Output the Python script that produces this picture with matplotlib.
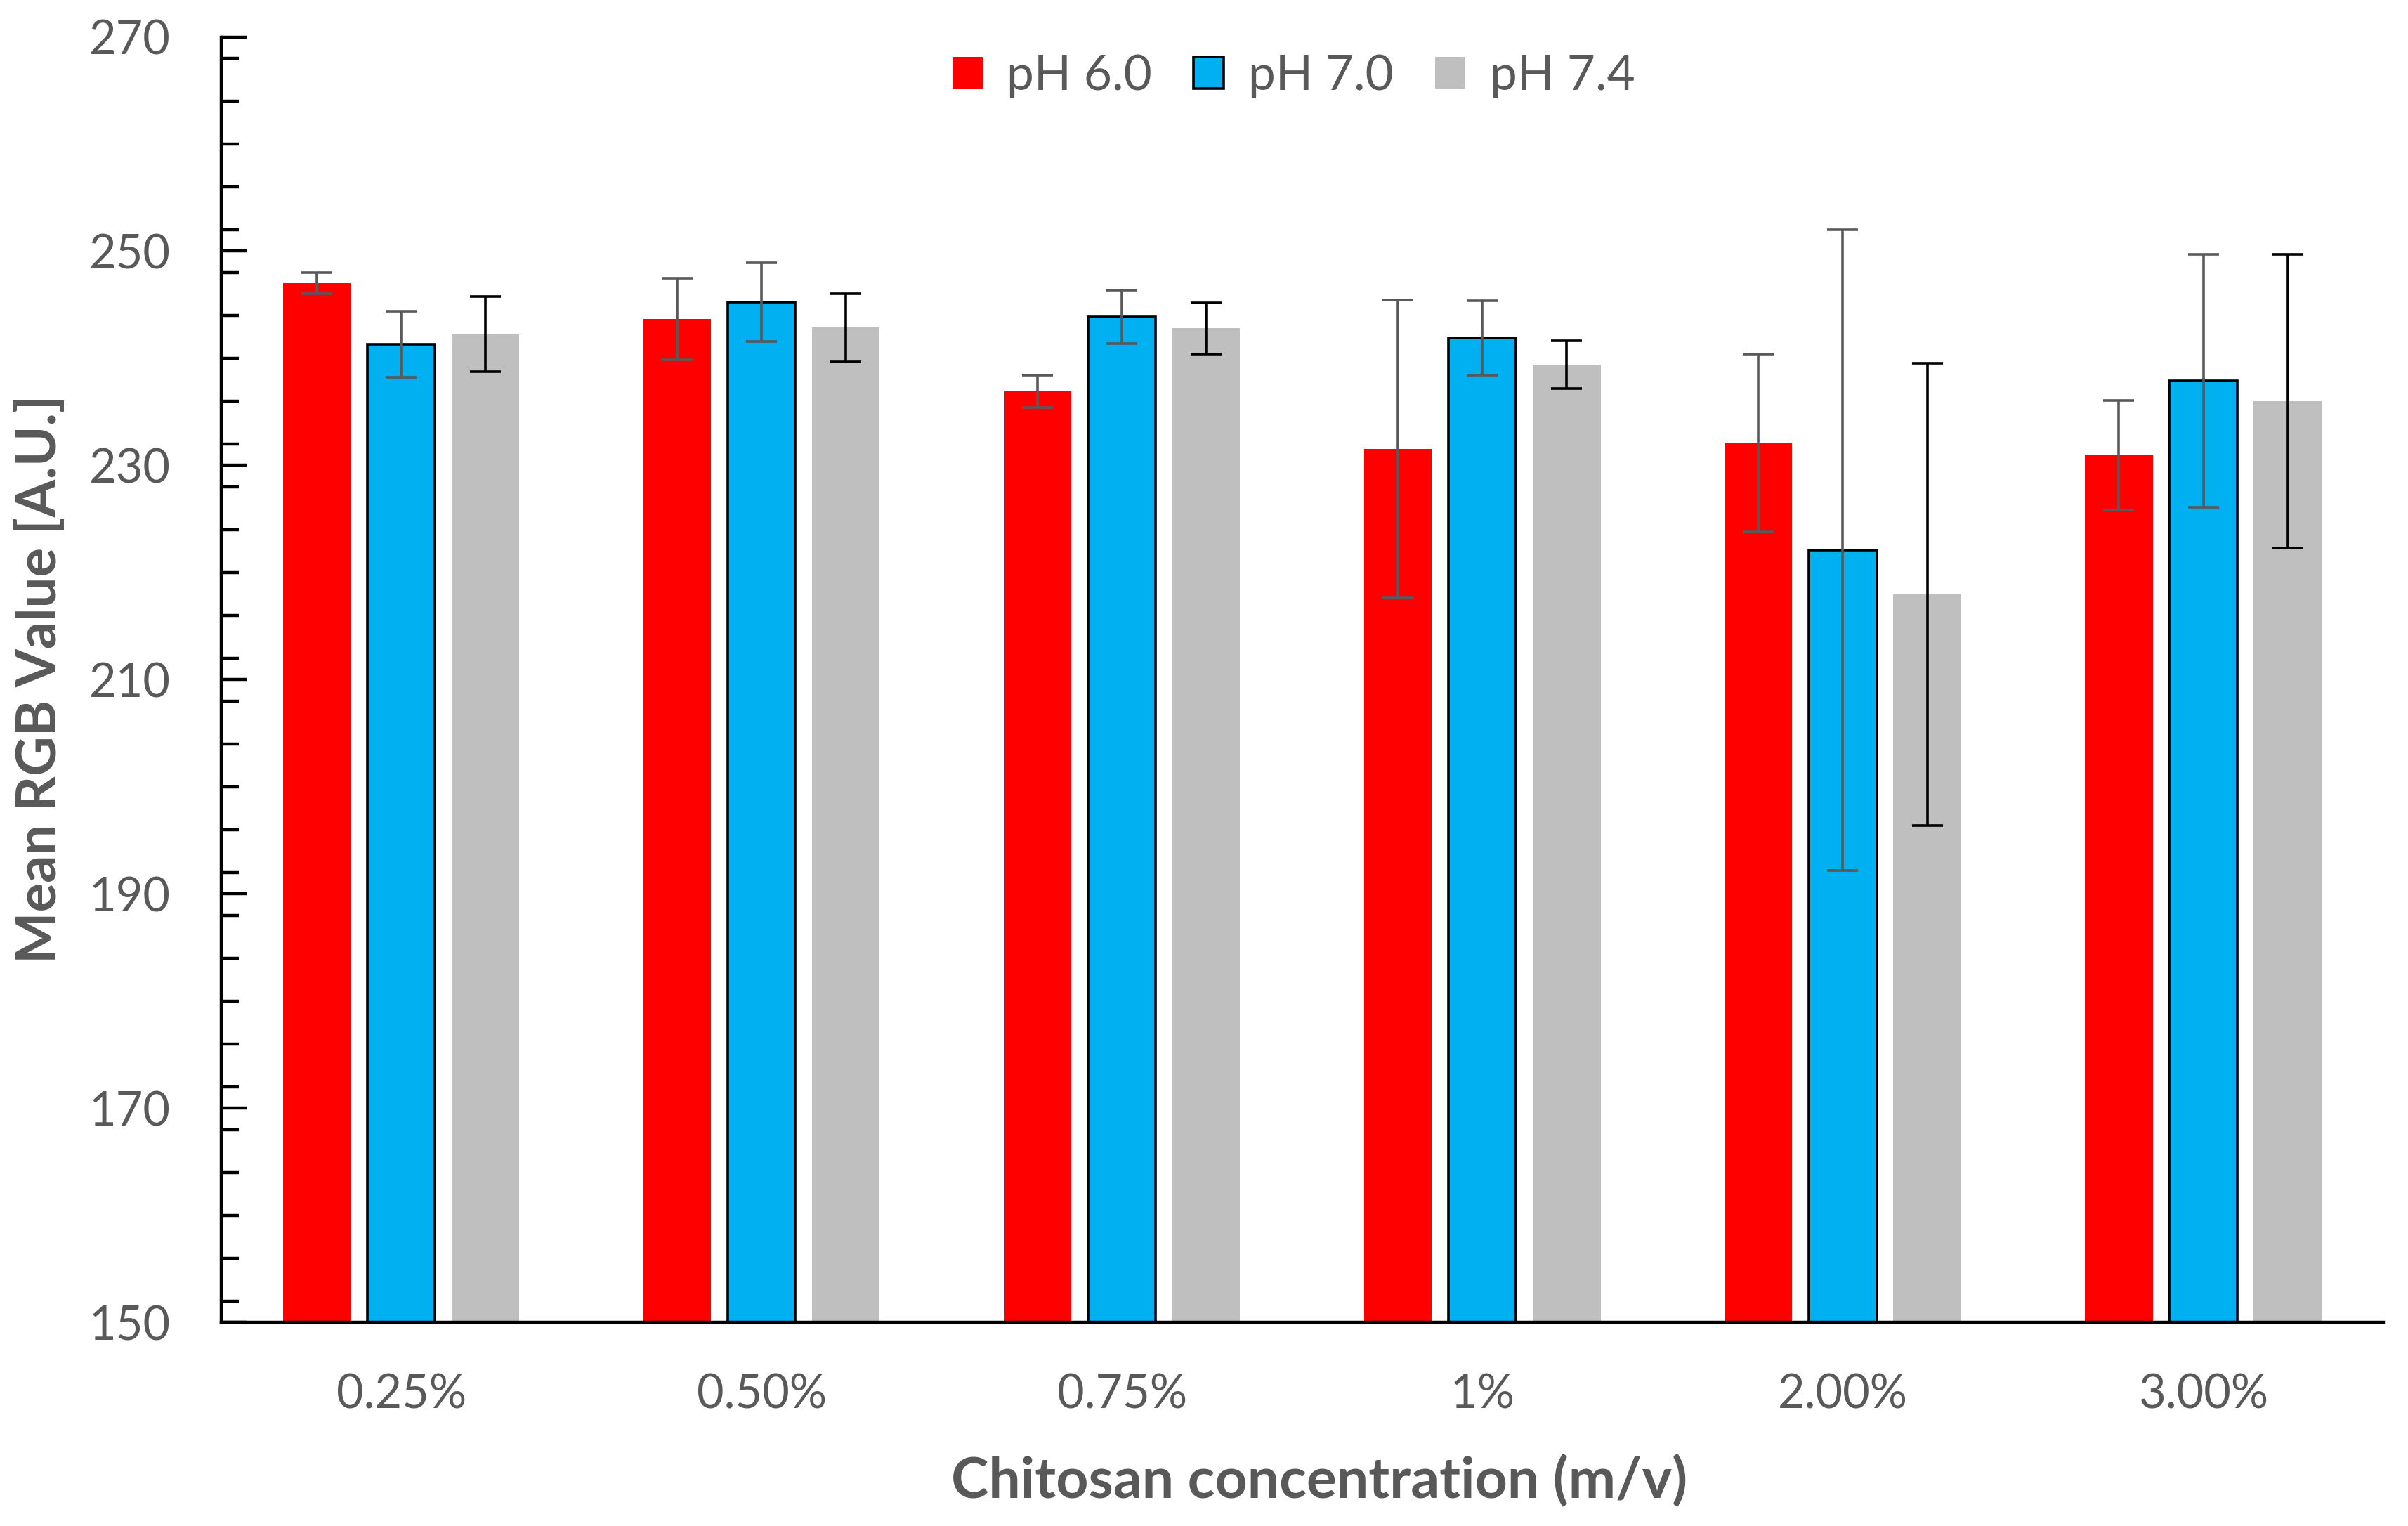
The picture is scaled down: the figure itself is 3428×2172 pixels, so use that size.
import matplotlib
matplotlib.use("Agg")
import matplotlib.pyplot as plt
import numpy as np
from matplotlib.ticker import MultipleLocator

categories = ["0.25%", "0.50%", "0.75%", "1%", "2.00%", "3.00%"]
series_names = ["pH 6.0", "pH 7.0", "pH 7.4"]
ph60 = [247.0, 243.65, 236.9, 231.55, 232.1, 230.95]
ph70 = [241.3, 245.25, 243.85, 241.9, 222.1, 237.9]
ph74 = [242.25, 242.85, 242.8, 239.4, 217.95, 236.0]
err60 = [1.0, 3.8, 1.5, 13.9, 8.3, 5.1]
err70 = [3.1, 3.65, 2.5, 3.5, 29.9, 11.8]
err74 = [3.5, 3.2, 2.4, 2.25, 21.6, 13.7]

text_col = "#595959"
plt.rcParams['font.family'] = ['Lato', 'DejaVu Sans']

fig = plt.figure(figsize=(17.14, 10.86), dpi=200)
ax = fig.add_axes([0.0918, 0.1335, 0.898, 0.8423])

x = np.arange(len(categories))
w = 0.1875
off = 0.234
ekw_grey = dict(ecolor="#595959", elinewidth=1.3, capsize=8, capthick=1.3)
ekw_black = dict(ecolor="#000000", elinewidth=1.3, capsize=8, capthick=1.3)

ax.bar(x - off, ph60, w, color="#FF0000", label=series_names[0], zorder=2)
ax.bar(x, ph70, w, color="#00B0F0", edgecolor="black", linewidth=1.3, label=series_names[1], zorder=2)
ax.bar(x + off, ph74, w, color="#BFBFBF", label=series_names[2], zorder=2)
ax.errorbar(x - off, ph60, yerr=err60, fmt="none", zorder=3, **ekw_grey)
ax.errorbar(x, ph70, yerr=err70, fmt="none", zorder=3, **ekw_grey)
ax.errorbar(x + off, ph74, yerr=err74, fmt="none", zorder=3, **ekw_black)

ax.set_xlim(-0.5, len(categories) - 0.5)
ax.set_ylim(150, 270)
ax.yaxis.set_major_locator(MultipleLocator(20))
ax.yaxis.set_minor_locator(MultipleLocator(4))
ax.set_yticks([150, 170, 190, 210, 230, 250, 270])
ax.set_xticks(x)
ax.set_xticklabels(categories)

for s in ["top", "right"]:
    ax.spines[s].set_visible(False)
ax.spines["left"].set_linewidth(1.6)
ax.spines["bottom"].set_linewidth(1.6)
ax.tick_params(axis="y", which="major", direction="in", length=13, width=1.6,
               labelsize=24, labelcolor=text_col, pad=26)
ax.tick_params(axis="y", which="minor", direction="in", length=9, width=1.6)
ax.tick_params(axis="x", which="both", length=0, labelsize=24, labelcolor=text_col, pad=26)

ax.set_ylabel("Mean RGB Value [A.U.]", fontsize=28, fontweight="bold", color=text_col)
ax.yaxis.set_label_coords(-0.0717, 0.5)
ax.set_xlabel("Chitosan concentration (m/v)", fontsize=29, fontweight="bold", color=text_col)
ax.xaxis.set_label_coords(0.508, -0.103)

leg = ax.legend(loc="upper center", bbox_to_anchor=(0.496, 1.021), ncol=3, frameon=False,
                fontsize=25, handlelength=0.62, handleheight=0.62, handletextpad=0.5,
                columnspacing=0.85)
for t in leg.get_texts():
    t.set_color(text_col)

fig.savefig("out.png", dpi=200)
